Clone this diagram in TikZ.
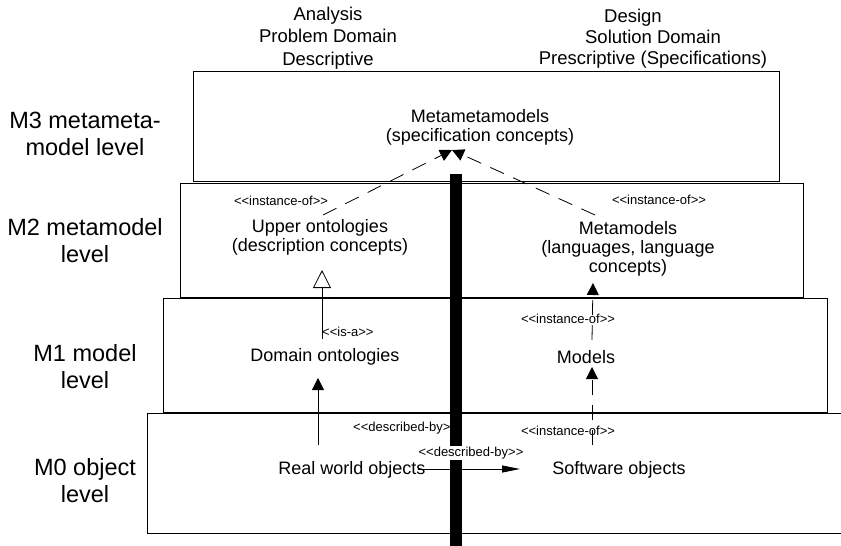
\documentclass[tikz,border=0pt]{standalone}
\usepackage{fontspec}
\setmainfont{Liberation Sans}[Ligatures=TeXOff]
\usetikzlibrary{arrows.meta,calc}

\begin{document}
\begin{tikzpicture}[
    x=1pt, y=-1pt,
    levelbox/.style={draw, line width=1pt, inner sep=0pt},
    levellabel/.style={align=center, font=\fontsize{23.5}{27}\selectfont},
    header/.style={align=center, font=\fontsize{18.5}{21}\selectfont},
    concept/.style={align=center, font=\fontsize{18}{19}\selectfont, inner sep=1pt},
    stereo/.style={font=\fontsize{13}{15}\selectfont, inner sep=1pt},
    assoc/.style={line width=0.8pt, -{Triangle[length=12pt,width=12pt]}},
    instof/.style={assoc, dash pattern=on 15pt off 10pt},
    isa/.style={line width=0.8pt, -{Triangle[open,length=18pt,width=18pt]}}
]
\clip (0,0) rectangle (841,546);

% the four levels
\node[levelbox, minimum width=586pt, minimum height=110pt] (mthree) at (486,126) {};
\node[levelbox, minimum width=623pt, minimum height=114pt] (mtwo) at (491.5,240) {};
\node[levelbox, minimum width=664pt, minimum height=114pt] (mone) at (495,355) {};
\node[levelbox, minimum width=703pt, minimum height=120pt] (mzero) at (498.5,473) {};

\node[levellabel] (lblthree) at (85,134) {M3 metameta-\\model level};
\node[levellabel] (lbltwo) at (85,241) {M2 metamodel\\level};
\node[levellabel] (lblone) at (85,367) {M1 model\\level};
\node[levellabel] (lblzero) at (85,481) {M0 object\\level};

% column headers
\node[header, font=\fontsize{18.5}{22.5}\selectfont] (analysis) at (328,38) {Analysis\\Problem Domain\\Descriptive};
\node[header] (design) at (653,39) {Design\hspace*{40pt}\\Solution Domain\\Prescriptive (Specifications)};

% contents
\node[concept] (metameta) at (480,127) {Metametamodels\\(specification concepts)};
\node[concept] (upperonto) at (320,237) {Upper ontologies\\(description concepts)};
\node[concept] (metamodels) at (628,249) {Metamodels\\(languages, language\\concepts)};
\node[concept] (domonto) at (325,357) {Domain ontologies};
\node[concept] (models) at (586,357) {Models};
\node[concept] (realworld) at (352,470) {Real world objects};
\node[concept] (software) at (619,470) {Software objects};

\node[stereo] (instupper) at (281,201) {<<instance-of>>};
\node[stereo] (instmeta) at (659,200) {<<instance-of>>};
\node[stereo, anchor=west] (isalbl) at (321,332) {<<is-a>>};
\node[stereo] (instmodels) at (568,319) {<<instance-of>>};
\node[stereo] (instsoft) at (568,431) {<<instance-of>>};
\node[stereo, anchor=west] (descvert) at (352,428) {<<described-by>>};

% relations
\draw[instof] ($(upperonto)+(3,-22)$) -- ($(metameta)+(-28,23)$);
\draw[instof] ($(metamodels)+(-33,-34)$) -- ($(metameta)+(-28,23)$);
\draw[isa] ($(domonto)+(-3,-18)$) -- ($(upperonto)+(2,33)$);
\draw[instof] ($(models)+(6,-17)$) -- ($(metamodels)+(-35,34)$);
\draw[assoc] ($(realworld)+(-34,-25)$) -- ($(domonto)+(-7,21)$);
\draw[instof] ($(software)+(-27,-25)$) -- ($(models)+(6,10)$);
\draw[line width=0.8pt, -{Triangle[length=18pt,width=7pt]}] ($(realworld)+(66,-1)$) -- ($(software)+(-99,-1)$);

% separator between the two domains
\node[fill=black, inner sep=0pt, minimum width=12pt, minimum height=372pt] (divider) at (456,360) {};
\node[stereo, fill=white] (deschor) at (471,453) {<<described-by>>};
\end{tikzpicture}
\end{document}
